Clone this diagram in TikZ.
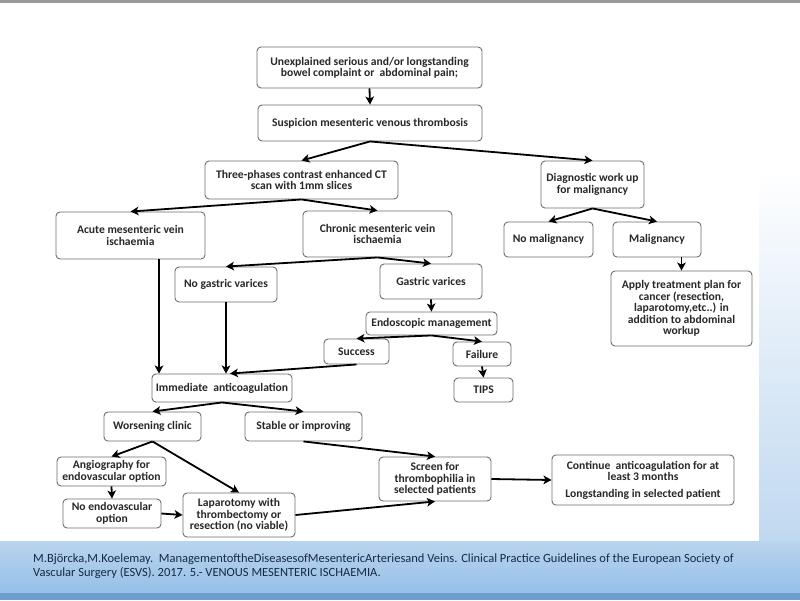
\documentclass[tikz,border=0pt]{standalone}
\usepackage{fontspec}
\setmainfont{Carlito}
\usetikzlibrary{arrows.meta}
\definecolor{boxgray}{RGB}{110,110,110}
\definecolor{textcol}{RGB}{40,40,40}
\definecolor{capcol}{RGB}{25,40,70}
\definecolor{bandtop}{RGB}{185,212,238}
\definecolor{bandbot}{RGB}{150,192,232}
\definecolor{bandline}{RGB}{110,158,205}
\begin{document}
\begin{tikzpicture}[x=1pt,y=-1pt,
  box/.style={draw=boxgray, line width=0.9pt, rounded corners=4pt, fill=white,
    align=center, inner sep=1pt, text=textcol,
    font=\fontsize{11.6}{11.6}\selectfont\bfseries},
  arr/.style={line width=1.8pt, -{Stealth[length=8pt,width=8.5pt,inset=2pt]}}]
% background
\useasboundingbox (0,0) rectangle (800,600);
\fill[white] (0,0) rectangle (800,600);
\fill[gray!80] (0,0) rectangle (800,2.5);
\shade[top color=white, bottom color=bandtop!90] (759,170) rectangle (800,541);
\shade[top color=bandtop, bottom color=bandbot] (0,541) rectangle (800,593);
\fill[bandline] (0,593) rectangle (800,600);
\fill[white] (26,30) rectangle (759,541);

% nodes
\node[box, minimum width=225pt, minimum height=41pt,
  font=\fontsize{11.6}{10}\selectfont\bfseries] (un) at (369.5,67.5)
  {Unexplained serious and/or longstanding\\bowel complaint or\ \ abdominal pain;};
\node[box, minimum width=224pt, minimum height=36pt] (sus) at (370,123)
  {Suspicion mesenteric venous thrombosis};
\node[box, minimum width=193pt, minimum height=38pt] (ct) at (301.5,180)
  {Three-phases contrast enhanced CT\\scan with 1mm slices};
\node[box, minimum width=103pt, minimum height=47pt] (diag) at (592.5,184.5)
  {Diagnostic work up\\for malignancy};
\node[box, minimum width=149pt, minimum height=47pt] (acute) at (130.5,235.5)
  {Acute mesenteric vein\\ischaemia};
\node[box, minimum width=149pt, minimum height=46pt] (chronic) at (377.5,234)
  {Chronic mesenteric vein\\ischaemia};
\node[box, minimum width=102pt, minimum height=35pt] (nogv) at (226,284.5)
  {No gastric varices};
\node[box, minimum width=102pt, minimum height=35pt] (gv) at (431,281.5)
  {Gastric varices};
\node[box, minimum width=131pt, minimum height=23pt] (endo) at (431.5,323.5)
  {Endoscopic management};
\node[box, minimum width=65pt, minimum height=25pt] (success) at (356.5,351.5)
  {Success};
\node[box, minimum width=58pt, minimum height=24pt] (failure) at (482,354)
  {Failure};
\node[box, minimum width=59pt, minimum height=24pt] (tips) at (483.5,390)
  {TIPS};
\node[box, minimum width=140pt, minimum height=28pt] (imm) at (222,388)
  {Immediate\ \ anticoagulation};
\node[box, minimum width=97pt, minimum height=29pt] (wors) at (152.5,426.5)
  {Worsening clinic};
\node[box, minimum width=117pt, minimum height=29pt] (stable) at (303.5,426.5)
  {Stable or improving};
\node[box, minimum width=109pt, minimum height=29pt] (angio) at (111.5,471.5)
  {Angiography for\\endovascular option};
\node[box, minimum width=98pt, minimum height=29pt] (noendo) at (112,513.5)
  {No endovascular\\option};
\node[box, minimum width=112pt, minimum height=44pt] (lap) at (239,515)
  {Laparotomy with\\thrombectomy or\\resection (no viable)};
\node[box, minimum width=112pt, minimum height=44pt] (screen) at (435,479)
  {Screen for\\thrombophilia in\\selected patients};
\node[box, minimum width=182pt, minimum height=50pt] (cont) at (643,480)
  {Continue\ \ anticoagulation for at\\least 3 months\\[5pt]Longstanding in selected patient};
\node[box, minimum width=89pt, minimum height=35pt] (nomal) at (548.5,239.5)
  {No malignancy};
\node[box, minimum width=88pt, minimum height=35pt] (mal) at (657,239.5)
  {Malignancy};
\node[box, minimum width=141pt, minimum height=75pt] (apply) at (681.5,308.5)
  {Apply treatment plan for\\cancer (resection,\\laparotomy,etc..) in\\addition to abdominal\\workup};

% connectors
\draw[arr] (un.south) -- (sus.north);
\draw[arr] (sus.south) -- (ct.north);
\draw[arr] (sus.south) -- (diag.north);
\draw[arr] (ct.south) -- (acute.north);
\draw[arr] (ct.south) -- (chronic.north);
\draw[arr] (chronic.south) -- (nogv.north);
\draw[arr] (chronic.south) -- (gv.north);
\draw[arr] (gv.south) -- (endo.north);
\draw[arr] (endo.south) -- (success.north);
\draw[arr] (endo.south) -- (failure.north);
\draw[arr] (failure.south) -- (tips.north);
\draw[arr] ([xshift=28.5pt]acute.south) -- ([xshift=28.5pt]acute.south |- imm.north);
\draw[arr] (nogv.south) -- (nogv.south |- imm.north);
\draw[arr] (success.south) -- ([xshift=4pt]nogv.south |- imm.north);
\draw[arr] (imm.south) -- (wors.north);
\draw[arr] (imm.south) -- (stable.north);
\draw[arr] (wors.south) -- (angio.north);
\draw[arr] (wors.south) -- (lap.north);
\draw[arr] (angio.south) -- (noendo.north);
\draw[arr] (noendo.east) -- (lap.west);
\draw[arr] (stable.south) -- (screen.north);
\draw[arr] (lap.east) -- (screen.south);
\draw[arr] (screen.east) -- (cont.west);
\draw[arr] (diag.south) -- (nomal.north);
\draw[arr] (diag.south) -- (mal.north);
\draw[arr] (apply.north |- mal.south) -- (apply.north);

% caption
\node[anchor=north west, inner sep=0pt, align=left, text=capcol,
  font=\fontsize{12.5}{13.5}\selectfont] (cap) at (33,554)
  {M.Björcka,M.Koelemay.\ \ ManagementoftheDiseasesofMesentericArteriesand Veins. Clinical Practice Guidelines of the European Society of\\Vascular Surgery (ESVS). 2017. 5.- VENOUS MESENTERIC ISCHAEMIA.};
\end{tikzpicture}
\end{document}
